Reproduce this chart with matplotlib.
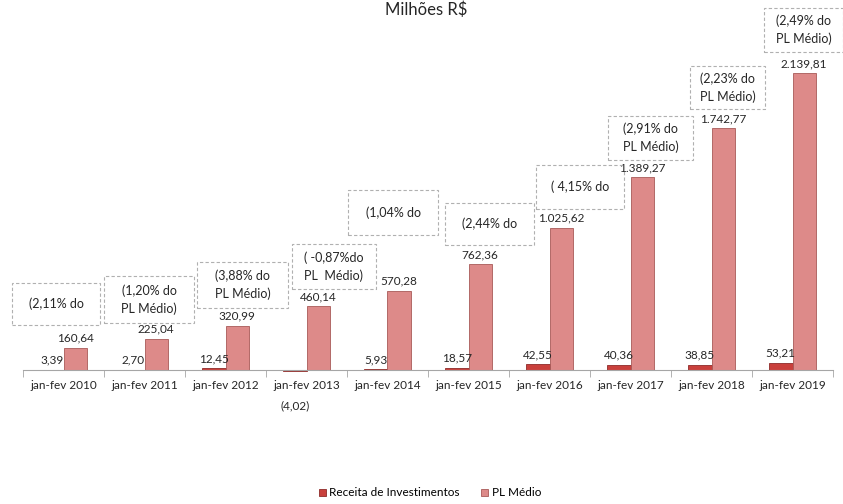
import matplotlib.pyplot as plt
import numpy as np
from matplotlib.patches import Rectangle

plt.rcParams['font.family'] = ['Lato', 'DejaVu Sans']

W, H = 843, 504

# chart data
categorias = ['jan-fev 2010', 'jan-fev 2011', 'jan-fev 2012', 'jan-fev 2013',
              'jan-fev 2014', 'jan-fev 2015', 'jan-fev 2016', 'jan-fev 2017',
              'jan-fev 2018', 'jan-fev 2019']
receita = [3.39, 2.70, 12.45, -4.02, 5.93, 18.57, 42.55, 40.36, 38.85, 53.21]
pl_medio = [160.64, 225.04, 320.99, 460.14, 570.28, 762.36, 1025.62,
            1389.27, 1742.77, 2139.81]
receita_labels = ['3,39', '2,70', '12,45', '(4,02)', '5,93', '18,57', '42,55',
                  '40,36', '38,85', '53,21']
pl_labels = ['160,64', '225,04', '320,99', '460,14', '570,28', '762,36',
             '1.025,62', '1.389,27', '1.742,77', '2.139,81']
# callout text (clipped in the original, only visible lines kept)
callouts = ['(2,11% do', '(1,20% do\nPL Médio)', '(3,88% do\nPL Médio)',
            '( -0,87%do\nPL  Médio)', '(1,04% do', '(2,44% do', '( 4,15% do',
            '(2,91% do\nPL Médio)', '(2,23% do\nPL Médio)', '(2,49% do\nPL Médio)']
# callout boxes in pixels: x0, y0, x1, y1 (from top)
boxes = [(12, 283, 100, 325), (104, 276, 194, 323), (197, 262, 288, 308),
         (292, 244, 376, 289), (348, 190, 438, 235), (445, 203, 534, 245),
         (536, 165, 624, 209), (608, 116, 693, 160), (690, 66, 765, 109),
         (764, 8, 843, 52)]

fig = plt.figure(figsize=(W / 100, H / 100), dpi=100)
ax = fig.add_axes([23 / W, (H - 384) / H, 810 / W, 347 / H])

x = np.arange(len(categorias))
bw = 0.29
b1 = ax.bar(x - bw / 2, receita, bw, color='#c9403c', edgecolor='#8e2a28',
            linewidth=0.6, label='Receita de Investimentos')
b2 = ax.bar(x + bw / 2, pl_medio, bw, color='#dd8a89', edgecolor='#a85a58',
            linewidth=0.6, label='PL Médio')

for xi, v, lab in zip(x, receita, receita_labels):
    if v >= 0:
        ax.annotate(lab, (xi - bw / 2, v), xytext=(0, 3), textcoords='offset points',
                    ha='center', va='bottom', fontsize=8.5, color='#262626')
    else:
        ax.annotate(lab, (xi - bw / 2, 0), xytext=(0, -22), textcoords='offset points',
                    ha='center', va='top', fontsize=8.5, color='#262626')
for xi, v, lab in zip(x, pl_medio, pl_labels):
    ax.annotate(lab, (xi + bw / 2, v), xytext=(0, 3), textcoords='offset points',
                ha='center', va='bottom', fontsize=8.5, color='#262626')

ax.set_xlim(-0.5, len(categorias) - 0.5)
ax.set_ylim(-100, 2400)
for s in ['top', 'right', 'left']:
    ax.spines[s].set_visible(False)
ax.spines['bottom'].set_position(('data', 0))
ax.spines['bottom'].set_color('#a6a6a6')
ax.set_yticks([])
ax.set_xticks(x)
ax.set_xticklabels(categorias, fontsize=8.5, color='#262626')
ax.tick_params(axis='x', which='major', length=0, pad=7)
ax.set_xticks(np.arange(-0.5, len(categorias)), minor=True)
ax.tick_params(axis='x', which='minor', length=5, color='#a6a6a6', direction='out')

for (x0, y0, x1, y1), txt in zip(boxes, callouts):
    fig.add_artist(Rectangle((x0 / W, 1 - y1 / H), (x1 - x0) / W, (y1 - y0) / H,
                             transform=fig.transFigure, fill=False,
                             edgecolor='#b0b0b0', linestyle=(0, (3, 2)), linewidth=0.8))
    fig.text((x0 + x1) / 2 / W, 1 - (y0 + y1) / 2 / H, txt, ha='center', va='center',
             fontsize=9, color='#262626', linespacing=1.5)

fig.text(0.505, 1 - 10 / H, 'Milhões R$', ha='center', va='center', fontsize=12,
         color='#262626')

fig.legend(handles=[b1, b2], loc='center', bbox_to_anchor=(0.51, 1 - 493 / H),
           ncol=2, frameon=False, fontsize=8.5, handlelength=0.6, handleheight=0.6,
           columnspacing=1.8, handletextpad=0.3)

fig.savefig('out.png', dpi=100)
